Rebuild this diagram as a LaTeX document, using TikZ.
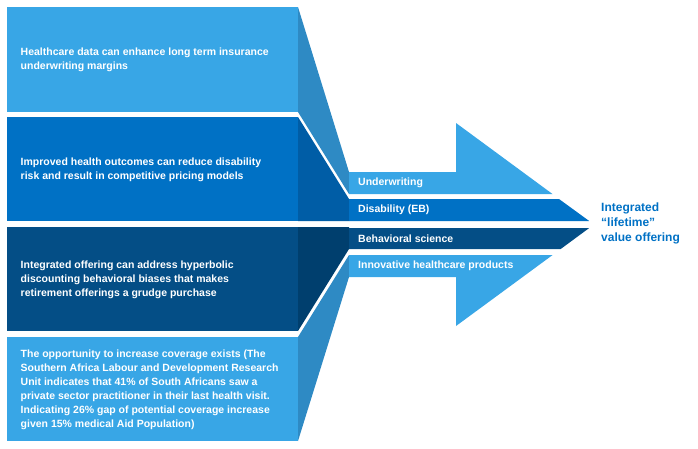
\documentclass[tikz,border=0pt]{standalone}
\usepackage{fontspec}
\setmainfont{Liberation Sans}
\usepackage{xcolor}
\usepackage{tikz}
\usetikzlibrary{positioning}
\definecolor{lightblue}{HTML}{38A6E6}
\definecolor{lightside}{HTML}{2E8AC4}
\definecolor{midblue}{HTML}{0071C5}
\definecolor{midside}{HTML}{005DA6}
\definecolor{darkblue}{HTML}{044E86}
\definecolor{darkside}{HTML}{003F6E}

\begin{document}
\begin{tikzpicture}[x=1pt, y=-1pt,
    boxtext/.style={font=\fontsize{10.5}{14}\selectfont\bfseries, text=white,
      anchor=west, align=left, inner sep=0pt},
    bandtext/.style={font=\fontsize{10.5}{13}\selectfont\bfseries, text=white,
      anchor=west, inner sep=0pt}]
      \useasboundingbox (0,0) rectangle (698,448);

      % Left boxes
      \fill[lightblue] (7,7) rectangle (298,112);
      \fill[midblue] (7,117) rectangle (298,221);
      \fill[darkblue] (7,227) rectangle (298,331);
      \fill[lightblue] (7,337) rectangle (298,441);

      % Side panels funnelling into the arrow
      \fill[lightside] (298,7) -- (349,172) -- (349,194) -- (298,112) -- cycle;
      \fill[midside] (298,117) -- (349,199) -- (349,221) -- (298,221) -- cycle;
      \fill[darkside] (298,227) -- (349,227) -- (349,249) -- (298,331) -- cycle;
      \fill[lightside] (298,337) -- (349,255) -- (349,277) -- (298,441) -- cycle;

      % Arrow bands
      \fill[lightblue] (349,172) -- (456,172) -- (456,123) -- (552.5,194)
        -- (349,194) -- cycle;
      \fill[midblue] (349,199) -- (559,199) -- (589.2,221) -- (349,221) -- cycle;
      \fill[darkblue] (349,228) -- (589.2,228) -- (560.7,249) -- (349,249) -- cycle;
      \fill[lightblue] (349,255) -- (552.6,255) -- (456,326) -- (456,277)
        -- (349,277) -- cycle;

      % Box texts
      \node[boxtext] (healthtext) at (20.5,60)
        {Healthcare data can enhance long term insurance\\
         underwriting margins};
      \node[boxtext] (disabtext) at (20.5,170)
        {Improved health outcomes can reduce disability\\
         risk and result in competitive pricing models};
      \node[boxtext] (behavtext) at (20.5,280)
        {Integrated offering can address hyperbolic\\
         discounting behavioral biases that makes\\
         retirement offerings a grudge purchase};
      \node[boxtext] (covertext) at (20.5,390)
        {The opportunity to increase coverage exists (The\\
         Southern Africa Labour and Development Research\\
         Unit indicates that 41\% of South Africans saw a\\
         private sector practitioner in their last health visit.\\
         Indicating 26\% gap of potential coverage increase\\
         given 15\% medical Aid Population)};

      % Band labels
      \node[bandtext] (underw) at (358,183) {Underwriting};
      \node[bandtext] (disab) at (358,210) {Disability (EB)};
      \node[bandtext] (behav) at (358,238.5) {Behavioral science};
      \node[bandtext] (innov) at (358,266) {Innovative healthcare products};

      % Result
      \node[font=\fontsize{12}{15}\selectfont\bfseries, text=midblue, anchor=west,
            align=left, inner sep=0pt] (result) at (601,223)
        {Integrated\\“lifetime”\\value offering};
\end{tikzpicture}
\end{document}
